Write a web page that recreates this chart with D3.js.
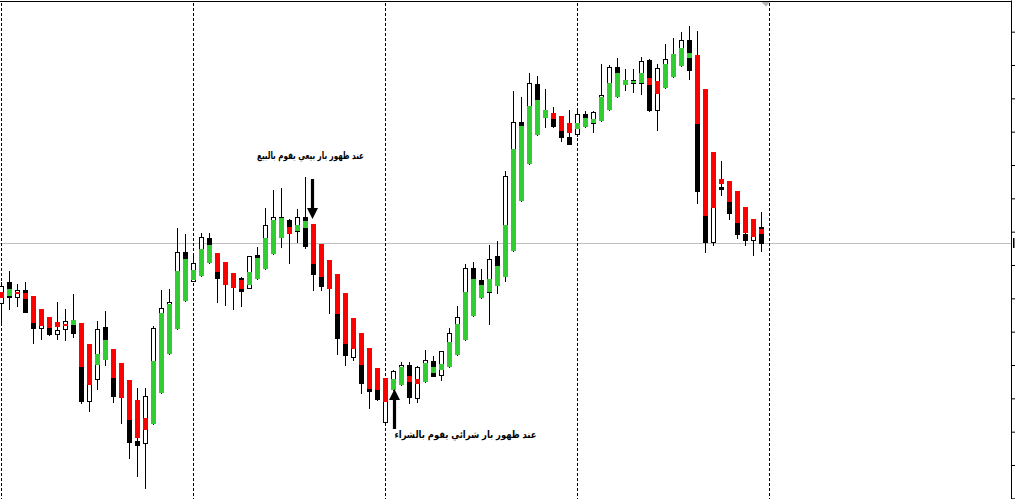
<!DOCTYPE html>
<html><head><meta charset="utf-8">
<script src="https://cdn.jsdelivr.net/npm/d3@7"></script>
<style>html,body{margin:0;padding:0;background:#fff;overflow:hidden}svg{display:block}</style>
</head><body>
<svg id="chart" width="1015" height="499"></svg>
<script>
// ---- data (H1 bars, oldest first) ----
const openP  = [1.29885,1.29949,1.29905,1.29925,1.29859,1.29812,1.29829,1.29792,1.29807,1.29835,1.29775,1.29593,1.29659,1.29814,1.29715,1.29685,1.29595,1.29473,1.29465,1.29595,1.29640,1.29760,1.29835,1.30038,
1.29953,1.29985,1.30081,1.30015,1.29991,1.29967,1.29961,1.29930,1.30030,1.30015,1.30060,1.30099,1.30135,1.30102,1.30144,1.30090,1.30030,1.30000,1.29925,1.29865,1.29725,1.29760,1.29715,1.29670,
1.29530,1.29631,1.29655,1.29700,1.29602,1.29670,1.29712,1.29670,1.29715,1.29760,1.29805,1.29990,1.29955,1.29918,1.30027,1.30000,1.30075,1.30429,1.30345,1.30543,1.30450,1.30450,1.30420,1.30384,
1.30394,1.30453,1.30425,1.30450,1.30495,1.30594,1.30543,1.30545,1.30546,1.30615,1.30465,1.30555,1.30585,1.30615,1.30675,1.30555,1.30435,1.30070,1.30235,1.30225,1.30195,1.30093,1.30075,1.30114];
const highP  = [1.29949,1.29982,1.29943,1.29949,1.29907,1.29868,1.29844,1.29889,1.29868,1.29913,1.29826,1.29763,1.29832,1.29862,1.29748,1.29706,1.29655,1.29631,1.29631,1.29816,1.29925,1.29928,1.30111,1.30093,
1.30037,1.30095,1.30095,1.30037,1.30009,1.29977,1.29964,1.30027,1.30054,1.30171,1.30225,1.30231,1.30138,1.30168,1.30264,1.30123,1.30063,1.30015,1.29973,1.29916,1.29841,1.29796,1.29751,1.29691,
1.29661,1.29685,1.29710,1.29710,1.29697,1.29745,1.29727,1.29743,1.29812,1.29877,1.30003,1.30009,1.29987,1.30059,1.30072,1.30282,1.30522,1.30504,1.30576,1.30567,1.30527,1.30474,1.30447,1.30465,
1.30466,1.30462,1.30462,1.30603,1.30600,1.30621,1.30588,1.30588,1.30624,1.30617,1.30603,1.30663,1.30681,1.30699,1.30717,1.30702,1.30528,1.30339,1.30312,1.30252,1.30222,1.30174,1.30138,1.30159];
const lowP   = [1.29830,1.29869,1.29877,1.29860,1.29765,1.29779,1.29789,1.29779,1.29775,1.29783,1.29587,1.29563,1.29629,1.29701,1.29590,1.29527,1.29422,1.29368,1.29332,1.29524,1.29617,1.29734,1.29809,1.29893,
1.29953,1.29967,1.30006,1.29890,1.29880,1.29868,1.29878,1.29930,1.29959,1.29989,1.30034,1.30055,1.30006,1.30070,1.30052,1.29925,1.29925,1.29857,1.29734,1.29701,1.29716,1.29617,1.29572,1.29596,
1.29525,1.29625,1.29640,1.29585,1.29588,1.29650,1.29667,1.29655,1.29693,1.29730,1.29775,1.29847,1.29902,1.29823,1.29915,1.29953,1.30042,1.30193,1.30303,1.30390,1.30415,1.30415,1.30372,1.30363,
1.30388,1.30415,1.30400,1.30433,1.30465,1.30504,1.30525,1.30519,1.30513,1.30463,1.30405,1.30531,1.30564,1.30597,1.30558,1.30186,1.30039,1.30061,1.30210,1.30138,1.30081,1.30060,1.30030,1.30042];
const closeP = [1.29937,1.29905,1.29924,1.29860,1.29812,1.29841,1.29792,1.29805,1.29832,1.29797,1.29593,1.29685,1.29808,1.29745,1.29608,1.29625,1.29470,1.29461,1.29607,1.29811,1.29871,1.29889,1.30038,1.29955,
1.30005,1.30084,1.30021,1.29961,1.29955,1.29940,1.29922,1.30027,1.30024,1.30120,1.30144,1.30144,1.30105,1.30144,1.30058,1.29974,1.29938,1.29946,1.29782,1.29731,1.29790,1.29646,1.29623,1.29599,
1.29625,1.29682,1.29700,1.29605,1.29694,1.29715,1.29667,1.29743,1.29795,1.29844,1.29990,1.29895,1.29919,1.30017,1.29955,1.30267,1.30429,1.30255,1.30546,1.30435,1.30466,1.30417,1.30385,1.30364,
1.30453,1.30429,1.30458,1.30510,1.30594,1.30525,1.30552,1.30555,1.30612,1.30465,1.30591,1.30618,1.30630,1.30675,1.30585,1.30222,1.30070,1.30255,1.30228,1.30156,1.30093,1.30075,1.30105,1.30065];
// Heiken Ashi overlay (open / close)
const haOpen  = [1.29920,1.29907,1.29920,1.29917,1.29907,1.29868,1.29844,1.29829,1.29823,1.29820,1.29826,1.29763,1.29700,1.29715,1.29748,1.29706,1.29655,1.29595,1.29542,1.29524,1.29617,1.29734,1.29809,1.29893,
1.29955,1.29967,1.30006,1.30037,1.30009,1.29977,1.29955,1.29940,1.29959,1.29989,1.30034,1.30082,1.30115,1.30102,1.30112,1.30123,1.30063,1.30015,1.29973,1.29916,1.29841,1.29796,1.29751,1.29691,
1.29661,1.29625,1.29640,1.29667,1.29658,1.29650,1.29677,1.29685,1.29693,1.29730,1.29775,1.29847,1.29902,1.29918,1.29937,1.29965,1.30042,1.30193,1.30303,1.30390,1.30441,1.30456,1.30447,1.30426,
1.30408,1.30415,1.30425,1.30433,1.30465,1.30504,1.30540,1.30545,1.30546,1.30561,1.30552,1.30531,1.30564,1.30597,1.30621,1.30630,1.30528,1.30339,1.30258,1.30252,1.30222,1.30174,1.30138,1.30108];
const haClose = [1.29902,1.29928,1.29914,1.29898,1.29825,1.29817,1.29812,1.29815,1.29818,1.29835,1.29694,1.29641,1.29733,1.29775,1.29662,1.29602,1.29535,1.29482,1.29505,1.29712,1.29856,1.29883,1.29982,1.30018,
1.29985,1.30048,1.30060,1.29978,1.29940,1.29931,1.29928,1.29979,1.30021,1.30081,1.30135,1.30142,1.30094,1.30120,1.30132,1.30003,1.29964,1.29929,1.29853,1.29763,1.29749,1.29700,1.29628,1.29625,
1.29590,1.29657,1.29693,1.29650,1.29643,1.29707,1.29695,1.29703,1.29770,1.29823,1.29918,1.29958,1.29940,1.29958,1.29997,1.30120,1.30348,1.30417,1.30477,1.30495,1.30465,1.30438,1.30402,1.30395,
1.30426,1.30442,1.30438,1.30503,1.30546,1.30576,1.30555,1.30552,1.30576,1.30540,1.30513,1.30603,1.30633,1.30651,1.30636,1.30423,1.30147,1.30171,1.30243,1.30189,1.30126,1.30097,1.30084,1.30093];
const separatorBars = [0, 24, 48, 72, 96];        // day separators
const priceTicks = [1.2930,1.2940,1.2950,1.2960,1.2970,1.2980,1.2990,1.3000,1.3010,1.3020,1.3030,1.3040,1.3050,1.3060,1.3070];
const sellNote = "عند ظهور بار بيعي يقوم بالبيع";
const buyNote  = "عند ظهور بار شرائي يقوم بالشراء";
const sellBar = 39, buyBar = 49;

// ---- drawing ----
const W = 1015, H = 499;
const svg = d3.select('#chart');
const y = d3.scaleLinear().domain([1.29298, 1.30795]).range([H, 0]);
const x = d3.scaleLinear().domain([0, 96]).range([1.5, 769.5]);
const Y = v => Math.round(y(v));
const bars = d3.range(openP.length).map(i => ({i, o: openP[i], h: highP[i], l: lowP[i], c: closeP[i], ho: haOpen[i], hc: haClose[i]}));
const lastPrice = closeP[closeP.length - 1];

svg.append('rect').attr('width', W).attr('height', H).attr('fill', '#fff');

// top border
svg.append('line').attr('x1', 0).attr('x2', 1011.5).attr('y1', 1.5).attr('y2', 1.5)
  .attr('stroke', '#000').attr('stroke-width', 1).attr('shape-rendering', 'crispEdges');

// bid line
svg.append('line').attr('x1', 0).attr('x2', 1011).attr('y1', Y(lastPrice) + 0.5).attr('y2', Y(lastPrice) + 0.5)
  .attr('stroke', '#c0c0c0').attr('stroke-width', 1).attr('shape-rendering', 'crispEdges');

// period separators
svg.append('g').selectAll('line').data(separatorBars).join('line')
  .attr('x1', d => x(d)).attr('x2', d => x(d)).attr('y1', 3).attr('y2', H)
  .attr('stroke', '#000').attr('stroke-width', 1).attr('stroke-dasharray', '3,2')
  .attr('shape-rendering', 'crispEdges');

// chart shift marker
svg.append('path').attr('d', `M${x(96)-8},2 L${x(96)+0.5},2 L${x(96)-3.5},6.5 Z`).attr('fill', '#b4b4b4');

const g = svg.append('g').attr('shape-rendering', 'crispEdges');
const cg = g.selectAll('g.bar').data(bars).join('g').attr('class', 'bar');
// wicks
cg.append('rect').attr('x', d => x(d.i) - 0.5).attr('width', 1)
  .attr('y', d => Y(d.h)).attr('height', d => Math.max(1, Y(d.l) - Y(d.h) + 1)).attr('fill', '#000');
// body outer
cg.append('rect').attr('x', d => x(d.i) - 2.5).attr('width', 5)
  .attr('y', d => Y(Math.max(d.o, d.c)))
  .attr('height', d => Math.max(1, Y(Math.min(d.o, d.c)) - Y(Math.max(d.o, d.c)) + 1))
  .attr('fill', '#000');
// hollow interior for bullish bars
cg.filter(d => d.c > d.o).append('rect').attr('x', d => x(d.i) - 1.5).attr('width', 3)
  .attr('y', d => Y(d.c) + 1)
  .attr('height', d => Math.max(0, Y(d.o) - Y(d.c) - 1))
  .attr('fill', '#fff');
// Heiken Ashi overlay
cg.append('rect').attr('x', d => x(d.i) - 2.5).attr('width', 5)
  .attr('y', d => Y(Math.max(d.ho, d.hc)))
  .attr('height', d => Math.max(1, Y(Math.min(d.ho, d.hc)) - Y(Math.max(d.ho, d.hc))))
  .attr('fill', d => d.hc >= d.ho ? '#32cd32' : '#ff0000');

// price axis
const ax = svg.append('g').attr('transform', 'translate(1011,0)')
  .call(d3.axisRight(y).tickValues(priceTicks).tickSize(4).tickSizeOuter(0).tickFormat(() => ''));
ax.select('.domain').attr('stroke', '#000');
ax.selectAll('.tick line').attr('stroke', '#000');
svg.append('rect').attr('x', 1013).attr('width', 1.5).attr('y', Y(lastPrice) - 5).attr('height', 10).attr('fill', '#000');

// annotations
function arrow(cx, tip, dir) {
  // dir = 1 : pointing down, -1 : pointing up
  const hl = 11, hw = 5.5, sw = 1.6, len = 40;
  const base = tip - dir * hl, tail = tip - dir * len;
  return `M${cx - sw},${tail} L${cx + sw},${tail} L${cx + sw},${base} L${cx + hw},${base} L${cx},${tip} L${cx - hw},${base} L${cx - sw},${base} Z`;
}
svg.append('path').attr('d', arrow(x(sellBar) - 1, y(highP[sellBar]) - 5, 1)).attr('fill', '#000');
svg.append('path').attr('d', arrow(x(buyBar) + 1, y(lowP[buyBar]) - 1, -1)).attr('fill', '#000');

svg.append('text').attr('x', x(sellBar) - 3).attr('y', y(highP[sellBar - 1]) - 18.5)
  .attr('text-anchor', 'middle').attr('direction', 'rtl')
  .attr('font-family', 'DejaVu Sans').attr('font-weight', 'bold').attr('font-size', 10)
  .attr('textLength', 107).attr('lengthAdjust', 'spacingAndGlyphs')
  .attr('fill', '#000').text(sellNote);
svg.append('text').attr('x', x(buyBar) + 72).attr('y', y(lowP[buyBar]) + 47.5)
  .attr('text-anchor', 'middle').attr('direction', 'rtl')
  .attr('font-family', 'DejaVu Sans').attr('font-weight', 'bold').attr('font-size', 10)
  .attr('textLength', 142).attr('lengthAdjust', 'spacingAndGlyphs')
  .attr('fill', '#000').text(buyNote);
</script>
</body></html>
